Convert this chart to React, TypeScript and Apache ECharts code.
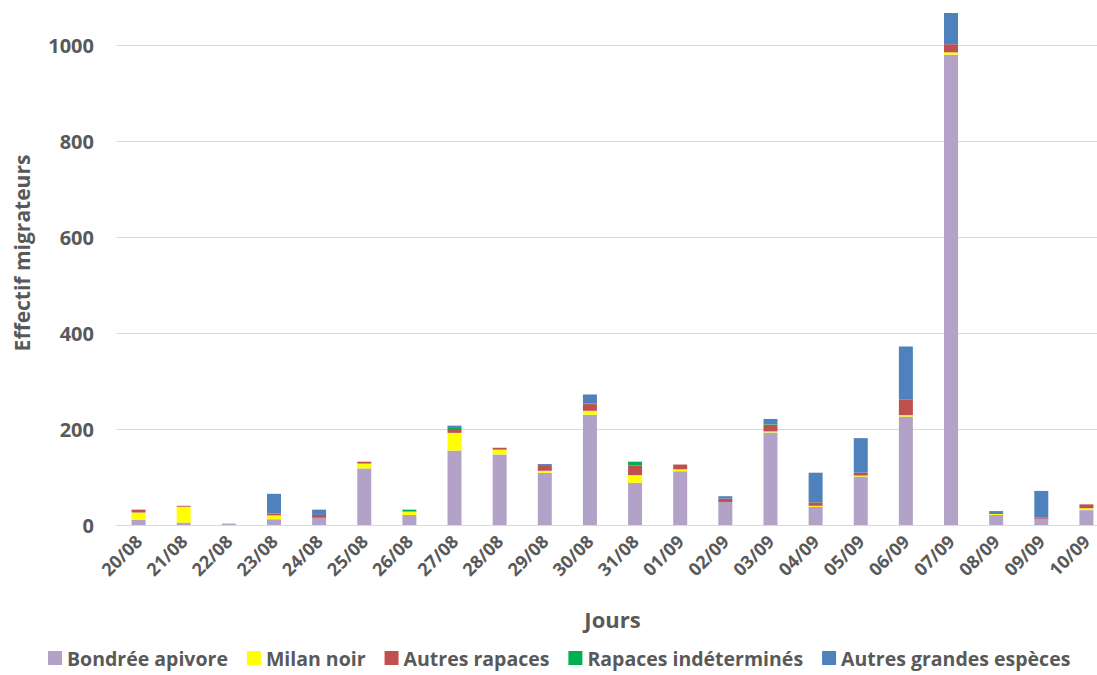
import React, { useEffect, useRef } from "react";
import * as echarts from "echarts";

const dates = ["20/08","21/08","22/08","23/08","24/08","25/08","26/08","27/08","28/08","29/08","30/08","31/08","01/09","02/09","03/09","04/09","05/09","06/09","07/09","08/09","09/09","10/09"];
const bondree = [11,5,3,12,15,118,21,155,147,109,230,88,112,48,193,38,101,226,980,21,13,31];
const milan = [15,33,0,8,0,10,7,37,10,4,8,16,4,0,2,2,2,3,5,2,0,4];
const autresRapaces = [6,2,0,4,6,4,0,6,4,10,14,20,10,7,14,7,6,32,17,0,3,8];
const indetermines = [0,0,0,0,0,0,4,6,0,0,1,8,0,0,1,0,0,0,0,0,0,0];
const grandes = [0,0,0,41,11,0,0,3,0,4,19,0,0,5,11,62,72,111,65,6,55,0];
const yTicks = [0, 200, 400, 600, 800, 1000];

const FONT = "Open Sans";
const GRAY = "#595959";

export default function App() {
  const ref = useRef<HTMLDivElement>(null);
  useEffect(() => {
    document.body.style.margin = "0";
    document.body.style.overflow = "hidden";
    const chart = echarts.init(ref.current!, null, { renderer: "svg" });
    const mk = (name: string, data: number[], color: string) => ({
      name, type: "bar", stack: "total", data, barWidth: 14,
      itemStyle: { color },
    });
    chart.setOption({
      animation: false,
      textStyle: { fontFamily: FONT },
      grid: { left: 116, right: 0, top: 13, bottom: 150 },
      legend: {
        top: 647, left: 48, icon: "rect", itemWidth: 14, itemHeight: 14, itemGap: 19, padding: 0,
        textStyle: { fontFamily: FONT, fontWeight: "bold", fontSize: 19.5, color: GRAY, lineHeight: 22 },
        data: ["Bondrée apivore","Milan noir","Autres rapaces","Rapaces indéterminés","Autres grandes espèces"],
      },
      xAxis: {
        type: "category", data: dates,
        name: "Jours", nameLocation: "middle", nameGap: 83,
        nameTextStyle: { fontFamily: FONT, fontWeight: "bold", fontSize: 22, color: GRAY },
        axisTick: { show: false },
        axisLine: { lineStyle: { color: "#d9d9d9", width: 1 } },
        axisLabel: { rotate: 45, margin: 13, fontFamily: FONT, fontWeight: "bold", fontSize: 18, color: GRAY },
      },
      yAxis: {
        type: "value", min: 0, max: 1067, interval: 200,
        name: "Effectif migrateurs", nameLocation: "middle", nameGap: 84,
        nameTextStyle: { fontFamily: FONT, fontWeight: "bold", fontSize: 21, color: GRAY, padding: [0, 0, 0, 32] },
        axisLine: { show: false }, axisTick: { show: false },
        axisLabel: {
          margin: 22, fontFamily: FONT, fontWeight: "bold", fontSize: 20, color: GRAY, showMaxLabel: false,
          formatter: (v: number) => (yTicks.includes(v) ? String(v) : ""),
        },
        splitLine: { showMaxLine: false, lineStyle: { color: "#d9d9d9", width: 1 } },
      },
      series: [
        mk("Bondrée apivore", bondree, "#B3A2C7"),
        mk("Milan noir", milan, "#FFFF00"),
        mk("Autres rapaces", autresRapaces, "#C0504D"),
        mk("Rapaces indéterminés", indetermines, "#00B050"),
        mk("Autres grandes espèces", grandes, "#4F81BD"),
      ],
    });
    return () => chart.dispose();
  }, []);
  return <div ref={ref} style={{ width: 1109, height: 675 }} />;
}
